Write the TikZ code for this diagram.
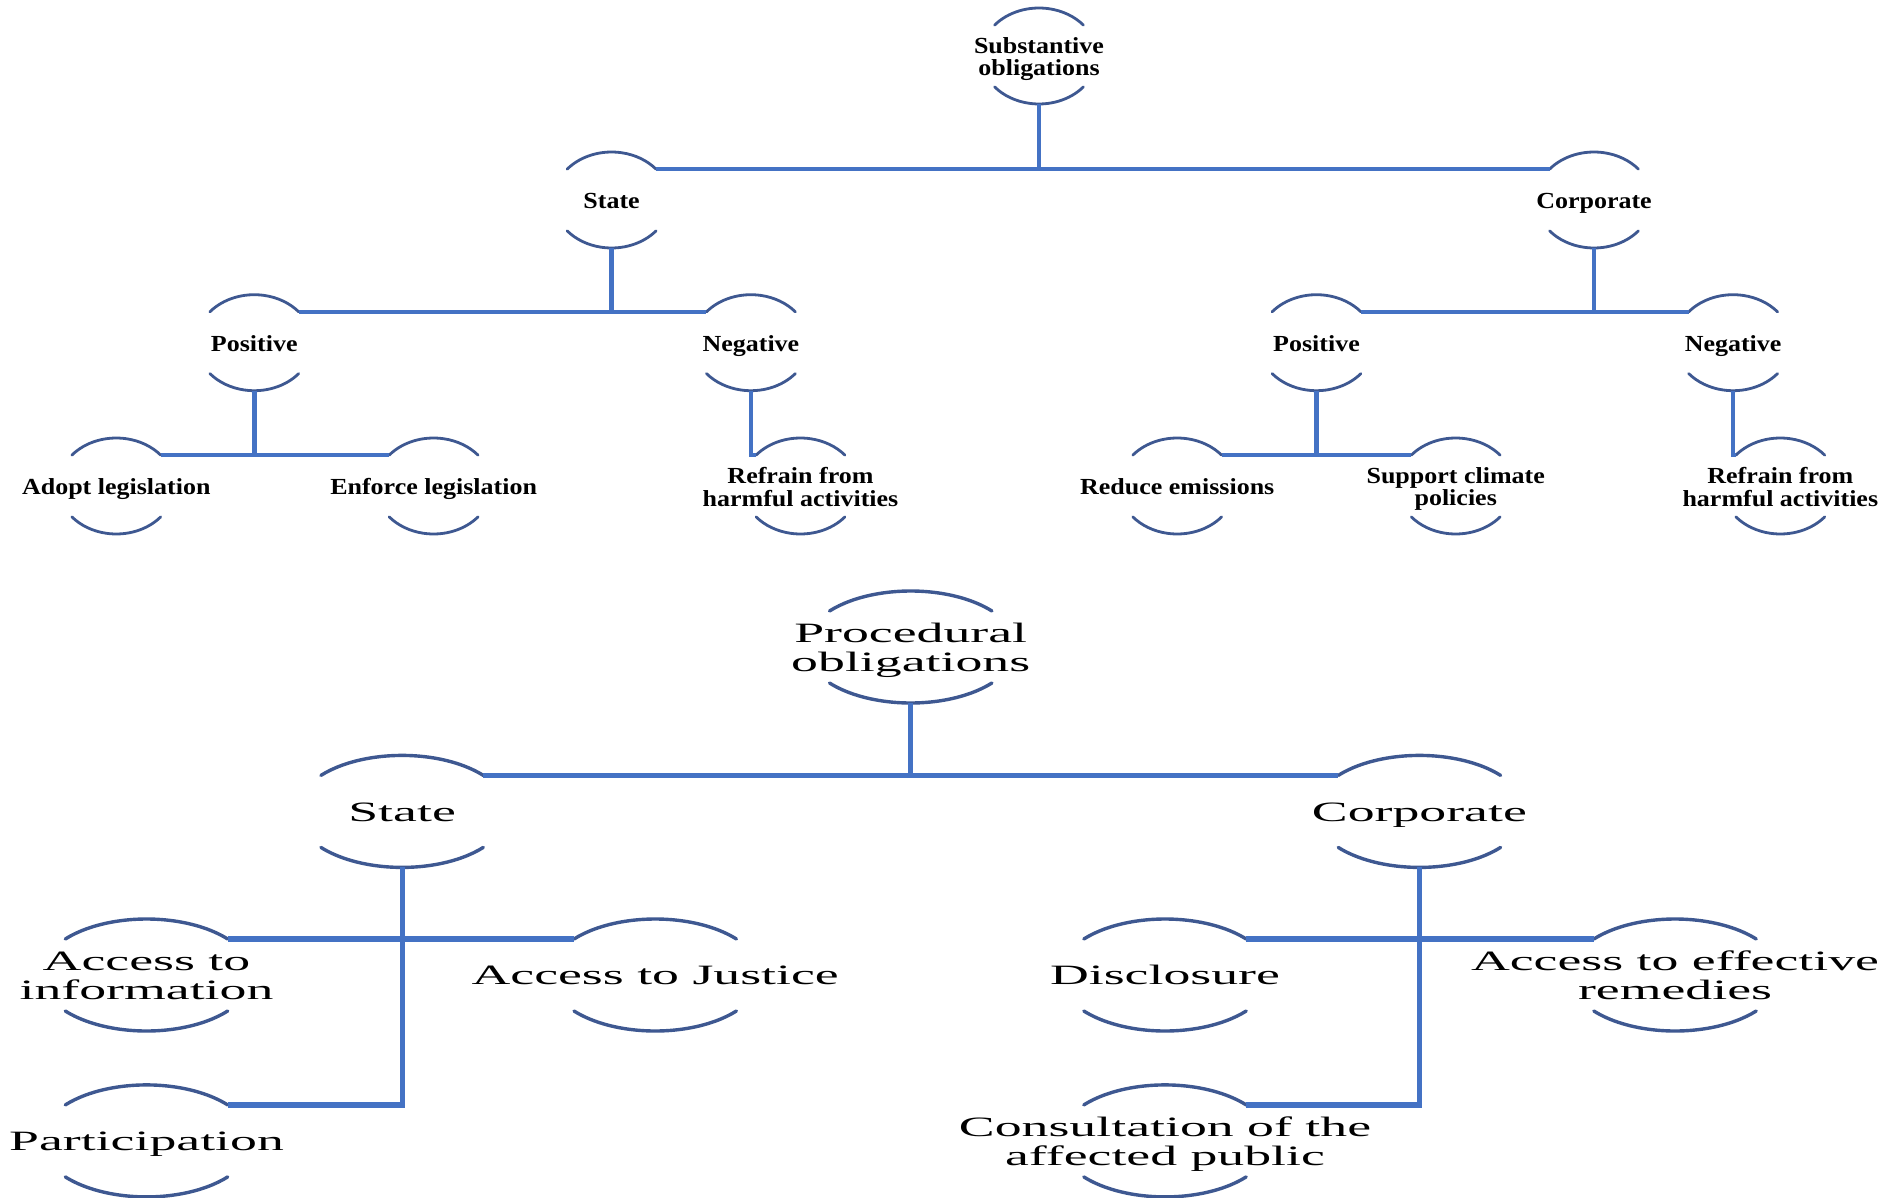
\documentclass[tikz,border=0pt]{standalone}
\usepackage{fontspec}
\setmainfont{Liberation Serif}
\usepackage{graphicx}
\usetikzlibrary{calc}

\definecolor{linkblue}{RGB}{68,114,196}
\definecolor{arcblue}{RGB}{62,88,145}

\tikzset{
  stext/.style={inner sep=0pt, font=\fontsize{11.5}{11}\selectfont\bfseries, yshift=-2pt},
  ptext/.style={inner sep=0pt, font=\fontsize{14}{14.5}\selectfont, yshift=-2pt},
  sarc/.style={draw=arcblue, line width=1.4pt, line cap=round},
  parc/.style={draw=arcblue, line width=1.7pt, line cap=round},
  slink/.style={draw=linkblue, line width=2.2pt},
  plink/.style={draw=linkblue, line width=2.6pt},
}

% small arc-bracketed node of the substantive tree: name, centre, text
\newcommand{\snode}[3]{%
  \coordinate (#1-c) at (#2);
  \node[stext] (#1) at (#1-c) {\scalebox{1.13}[1]{\begin{tabular}{@{}c@{}}#3\end{tabular}}};
  \coordinate (#1-tl) at ($(#1-c)+(220:58 and 48)$);
  \coordinate (#1-tr) at ($(#1-c)+(320:58 and 48)$);
  \coordinate (#1-b)  at ($(#1-c)+(0,48)$);
  \draw[sarc] (#1-tl) arc[start angle=220,end angle=320,x radius=58,y radius=48];
  \draw[sarc] ($(#1-c)+(40:58 and 48)$) arc[start angle=40,end angle=140,x radius=58,y radius=48];
}

% larger arc-bracketed node of the procedural tree: name, centre, text
\newcommand{\pnode}[3]{%
  \coordinate (#1-c) at (#2);
  \node[ptext] (#1) at (#1-c) {\scalebox{1.92}[1]{\begin{tabular}{@{}c@{}}#3\end{tabular}}};
  \coordinate (#1-tl) at ($(#1-c)+(220:106 and 56)$);
  \coordinate (#1-tr) at ($(#1-c)+(320:106 and 56)$);
  \coordinate (#1-b)  at ($(#1-c)+(0,56)$);
  \draw[parc] (#1-tl) arc[start angle=220,end angle=320,x radius=106,y radius=56];
  \draw[parc] ($(#1-c)+(40:106 and 56)$) arc[start angle=40,end angle=140,x radius=106,y radius=56];
}

\begin{document}
\begin{tikzpicture}[x=0.5pt,y=-0.5pt]
  \fill[white] (0,0) rectangle (1899,1198);
  \useasboundingbox (0,0) rectangle (1899,1198);

  % ---- substantive obligations ----
  \snode{sub}{1039,56}{Substantive\\obligations}
  \snode{sst}{611.6,200}{State}
  \snode{sco}{1594,200}{Corporate}
  \snode{spo}{254.3,342.7}{Positive}
  \snode{sne}{750.9,342.7}{Negative}
  \snode{cpo}{1316.5,342.7}{Positive}
  \snode{cne}{1733.1,342.7}{Negative}
  \snode{ado}{116.3,486}{Adopt legislation}
  \snode{enf}{433.6,486}{Enforce legislation}
  \snode{rfa}{800.5,486}{Refrain from\\harmful activities}
  \snode{red}{1177.2,486}{Reduce emissions}
  \snode{spc}{1455.7,486}{Support climate\\policies}
  \snode{rfb}{1780.3,486}{Refrain from\\harmful activities}

  \draw[slink] (sub-b) -- (sub-b |- sst-tr);
  \draw[slink] (sst-tr) -- (sco-tl);
  \draw[slink] (sst-b) -- (sst-b |- spo-tr);
  \draw[slink] (spo-tr) -- (sne-tl);
  \draw[slink] (spo-b) -- (spo-b |- ado-tr);
  \draw[slink] (ado-tr) -- (enf-tl);
  \draw[slink] (sne-b) |- (rfa-tl);
  \draw[slink] (sco-b) -- (sco-b |- cpo-tr);
  \draw[slink] (cpo-tr) -- (cne-tl);
  \draw[slink] (cpo-b) -- (cpo-b |- red-tr);
  \draw[slink] (red-tr) -- (spc-tl);
  \draw[slink] (cne-b) |- (rfb-tl);

  % ---- procedural obligations ----
  \pnode{pro}{910.7,647}{Procedural\\obligations}
  \pnode{pst}{402.1,811.4}{State}
  \pnode{pco}{1419.4,811.4}{Corporate}
  \pnode{ain}{146.5,975}{Access to\\information}
  \pnode{aju}{655.2,975}{Access to Justice}
  \pnode{par}{146.5,1140.9}{Participation}
  \pnode{dis}{1165,975}{Disclosure}
  \pnode{rem}{1675,975}{Access to effective\\remedies}
  \pnode{con}{1165,1140.9}{Consultation of the\\affected public}

  \draw[plink] (pro-b) -- (pro-b |- pst-tr);
  \draw[plink] (pst-tr) -- (pco-tl);
  \draw[plink] (pst-b) |- (par-tr);
  \draw[plink] (ain-tr) -- (aju-tl);
  \draw[plink] (pco-b) |- (con-tr);
  \draw[plink] (dis-tr) -- (rem-tl);
\end{tikzpicture}
\end{document}
